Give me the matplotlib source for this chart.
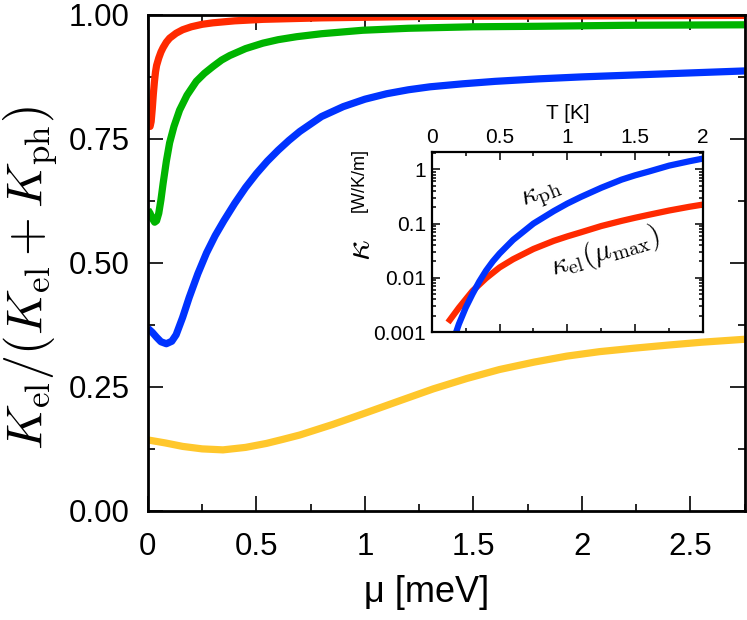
# Thermal conductivity ratio vs chemical potential, inset: kappa vs T

import numpy as np
import matplotlib.pyplot as plt
from matplotlib.ticker import MultipleLocator, LogLocator, NullFormatter

plt.rcParams['font.family'] = ['Liberation Sans', 'DejaVu Sans']
plt.rcParams['mathtext.fontset'] = 'cm'

# main panel: K_el/(K_el+K_ph) vs mu [meV]
mu_red = [0, 0.005, 0.01, 0.015, 0.02, 0.025, 0.03, 0.035, 0.04, 0.05, 0.06, 0.07, 0.085, 0.1,
          0.13, 0.16, 0.2, 0.25, 0.3, 0.4, 0.53, 0.8, 1.3, 2.0, 2.75]
r_red = [0.792, 0.78, 0.775, 0.785, 0.81, 0.84, 0.865, 0.885, 0.898, 0.913, 0.925, 0.934, 0.945, 0.953,
         0.963, 0.97, 0.976, 0.981, 0.984, 0.988, 0.991, 0.994, 0.997, 0.998, 0.999]

mu_green = [0, 0.01, 0.02, 0.031, 0.04, 0.05, 0.06, 0.07, 0.085, 0.1, 0.12, 0.146, 0.18, 0.223,
            0.26, 0.3, 0.34, 0.377, 0.45, 0.53, 0.6, 0.685, 0.8, 0.99, 1.2, 1.5, 1.8, 2.2, 2.75]
r_green = [0.607, 0.6, 0.59, 0.582, 0.585, 0.6, 0.627, 0.66, 0.705, 0.742, 0.775, 0.808, 0.838, 0.866,
           0.882, 0.896, 0.909, 0.918, 0.932, 0.943, 0.95, 0.956, 0.962, 0.969, 0.973, 0.976, 0.977, 0.979, 0.98]

mu_blue = [0, 0.02, 0.04, 0.06, 0.085, 0.11, 0.13, 0.16, 0.19, 0.23, 0.27, 0.31, 0.35, 0.4, 0.45,
           0.5, 0.55, 0.6, 0.65, 0.7, 0.8, 0.9, 1.0, 1.1, 1.2, 1.3, 1.45, 1.6, 1.8, 2.0, 2.25, 2.5, 2.75]
r_blue = [0.368, 0.36, 0.35, 0.341, 0.337, 0.342, 0.355, 0.39, 0.43, 0.478, 0.52, 0.555, 0.585, 0.62, 0.652,
          0.68, 0.705, 0.727, 0.747, 0.765, 0.795, 0.815, 0.83, 0.841, 0.849, 0.855, 0.861, 0.866, 0.871,
          0.875, 0.879, 0.883, 0.887]

mu_yellow = [0, 0.08, 0.16, 0.25, 0.346, 0.45, 0.546, 0.62, 0.7, 0.85, 1.0, 1.16, 1.315, 1.47, 1.62,
             1.78, 1.93, 2.08, 2.24, 2.39, 2.55, 2.75]
r_yellow = [0.143, 0.137, 0.13, 0.125, 0.123, 0.128, 0.136, 0.144, 0.153, 0.174, 0.197, 0.222, 0.246, 0.267,
            0.285, 0.3, 0.312, 0.321, 0.328, 0.334, 0.34, 0.346]

# inset: kappa [W/K/m] vs T [K]
T_ph = [0.18, 0.2, 0.25, 0.3, 0.35, 0.4, 0.45, 0.5, 0.6, 0.75, 0.9, 1.0, 1.1, 1.25, 1.4, 1.5, 1.6, 1.75, 1.9, 2.0]
k_ph = [0.001, 0.0014, 0.0028, 0.005, 0.0085, 0.0135, 0.02, 0.028, 0.05, 0.1, 0.17, 0.234, 0.31, 0.457,
        0.646, 0.776, 0.91, 1.17, 1.41, 1.58]
T_el = [0.12, 0.2, 0.3, 0.4, 0.5, 0.6, 0.75, 0.9, 1.0, 1.1, 1.25, 1.4, 1.5, 1.6, 1.75, 1.9, 2.0]
k_el = [0.0015, 0.0028, 0.0057, 0.0098, 0.0155, 0.022, 0.034, 0.048, 0.058, 0.069, 0.09, 0.112, 0.128,
        0.145, 0.174, 0.204, 0.224]

c_red = '#ff2a00'
c_green = '#00b400'
c_blue = '#0033ff'
c_yellow = '#ffc72c'

fig = plt.figure(figsize=(7.47, 6.2), dpi=100)
ax = fig.add_axes([0.198, 0.176, 0.799, 0.800])

lw = 5.2
ax.plot(mu_yellow, r_yellow, color=c_yellow, lw=lw, solid_capstyle='butt')
ax.plot(mu_blue, r_blue, color=c_blue, lw=lw, solid_capstyle='butt')
ax.plot(mu_green, r_green, color=c_green, lw=lw, solid_capstyle='butt')
ax.plot(mu_red, r_red, color=c_red, lw=lw, solid_capstyle='butt')

ax.set_xlim(0, 2.75)
ax.set_ylim(0, 1.0)
ax.xaxis.set_minor_locator(MultipleLocator(0.25))
ax.yaxis.set_minor_locator(MultipleLocator(0.125))
ax.set_xticks([0, 0.5, 1, 1.5, 2, 2.5])
ax.set_xticklabels(['0', '0.5', '1', '1.5', '2', '2.5'])
ax.set_yticks([0, 0.25, 0.5, 0.75, 1.0])
ax.set_yticklabels(['0.00', '0.25', '0.50', '0.75', '1.00'])
ax.tick_params(which='both', direction='in', top=True, right=True, labelsize=22.5, width=1.2)
ax.tick_params(which='major', length=11)
ax.tick_params(which='minor', length=5)
ax.tick_params(axis='x', which='major', pad=15)
ax.tick_params(axis='y', which='major', pad=13)
for s in ax.spines.values():
    s.set_linewidth(2.0)

# axis labels placed by their centres
fig.text(427 / 747, 1 - 593 / 620, u'\u03bc [meV]', fontsize=26, ha='center', va='center')
fig.text(31 / 747, 1 - 278 / 620, r'$K_{\rm el}/(K_{\rm el}+K_{\rm ph})$', fontsize=36,
         rotation=90, ha='center', va='center')

# inset
axi = fig.add_axes([0.578, 0.4645, 0.363, 0.290])
axi.plot(T_el, k_el, color=c_red, lw=4.5, solid_capstyle='butt')
axi.plot(T_ph, k_ph, color=c_blue, lw=4.5, solid_capstyle='butt')
axi.set_yscale('log')
axi.set_xlim(0, 2)
axi.set_ylim(0.001, 2.07)
axi.set_xticks([0, 0.5, 1, 1.5, 2])
axi.set_xticklabels(['0', '0.5', '1', '1.5', '2'])
axi.xaxis.set_minor_locator(MultipleLocator(0.25))
axi.set_yticks([0.001, 0.01, 0.1, 1])
axi.set_yticklabels(['0.001', '0.01', '0.1', '1'])
axi.yaxis.set_minor_locator(LogLocator(base=10, subs=np.arange(2, 10)))
axi.yaxis.set_minor_formatter(NullFormatter())
axi.tick_params(which='both', direction='in', top=True, right=True, bottom=True,
                labeltop=True, labelbottom=False, labelsize=15, width=1.1)
axi.tick_params(which='major', length=6, pad=4)
axi.tick_params(which='minor', length=3)
for s in axi.spines.values():
    s.set_linewidth(1.6)
axi.xaxis.set_label_position('top')
axi.set_xlabel('T [K]', fontsize=15, labelpad=6)

axi.text(0.406, 0.76, r'$\kappa_{\rm ph}$', transform=axi.transAxes, fontsize=21,
         rotation=22, ha='center', va='center')
axi.text(0.64, 0.445, r'$\kappa_{\rm el}(\mu_{\rm max})$', transform=axi.transAxes, fontsize=21,
         rotation=17, ha='center', va='center')

fig.text(360 / 747, 1 - 250 / 620, r'$\kappa$', fontsize=26, rotation=90, ha='center', va='center')
fig.text(359 / 747, 1 - 180 / 620, '[W/K/m]', fontsize=13, rotation=90, ha='center', va='center')

fig.savefig('out.png', dpi=100)
